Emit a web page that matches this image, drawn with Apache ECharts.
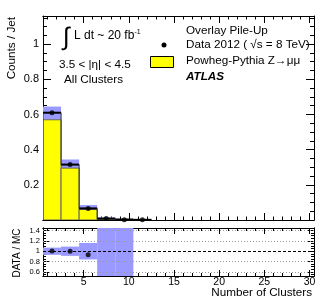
<!DOCTYPE html>
<html><head><meta charset="utf-8">
<script src="https://cdn.jsdelivr.net/npm/echarts@6/dist/echarts.min.js"></script>
<style>html,body{margin:0;padding:0;background:#fff}#c{width:329px;height:305px}</style>
</head><body><div id="c"></div>
<script>
// ---- data ----
const binLow = [0.5, 2.5, 4.5, 6.5, 8.5, 10.5];
const binHigh = [2.5, 4.5, 6.5, 8.5, 10.5, 12.5];
const binCenter = [1.5, 3.5, 5.5, 7.5, 9.5, 11.5];
const powheg = [0.57, 0.295, 0.06, 0.004, 0.001, 0.0005];
const overlay = [0.61, 0.315, 0.066, 0.008, 0.003, 0.001];
const overlayErrLow = [0.57, 0.29, 0.05, 0.002, 0, 0];
const overlayErrHigh = [0.645, 0.344, 0.085, 0.015, 0.006, 0.003];
const data2012 = [0.61, 0.315, 0.066, 0.008, 0.002, 0.001];
const ratio = [1.005, 1.0, 0.93];
const ratioBinLow = [0.5, 2.5, 4.5, 6.5, 8.5];
const ratioBinHigh = [2.5, 4.5, 6.5, 8.5, 10.5];
const ratioErrLow = [0.93, 0.91, 0.84, 0, 0];
const ratioErrHigh = [1.07, 1.09, 1.16, 3, 3];
const xMajorTicks = [5, 10, 15, 20, 25, 30];
const xMinorTicks = [1,2,3,4,6,7,8,9,11,12,13,14,16,17,18,19,21,22,23,24,26,27,28,29];
const ratioMajorTicks = [0.6, 0.8, 1, 1.2, 1.4];
const ratioMinorTicks = [0.55,0.65,0.7,0.75,0.85,0.9,0.95,1.05,1.1,1.15,1.25,1.3,1.35,1.45];
const ratioGridDotted = [0.6, 0.8, 1.2, 1.4];
const ratioGridDashed = [1];

const FONT = 'Liberation Sans';
const BLUE = '#9999ff';
const YELLOW = '#ffff00';

function xAx(grid, pos, ticks, len, labels) {
  return {
    type: 'value', gridIndex: grid, position: pos, min: 0.5, max: 30.5,
    axisLine: { show: true, lineStyle: { color: '#000', width: 1 } },
    axisTick: { show: true, inside: true, length: len, customValues: ticks, lineStyle: { color: '#000' } },
    axisLabel: labels ? { show: true, customValues: ticks, fontFamily: FONT, fontSize: 10.5, color: '#000', margin: 1 } : { show: false },
    splitLine: { show: false }
  };
}
function yRatio(pos, ticks, len, labels) {
  return {
    type: 'value', gridIndex: 1, position: pos, min: 0.52, max: 1.45,
    axisLine: { show: true, lineStyle: { color: '#000', width: 1 } },
    axisTick: { show: true, inside: true, length: len, customValues: ticks, lineStyle: { color: '#000' } },
    axisLabel: labels ? { show: true, customValues: ticks, fontFamily: FONT, fontSize: 7.5, color: '#000', margin: 3 } : { show: false },
    splitLine: { show: false }
  };
}
function yMain(pos, labels) {
  return {
    type: 'value', gridIndex: 0, position: pos, min: 0, max: 1.16, interval: 0.2,
    axisLine: { show: true, lineStyle: { color: '#000', width: 1 } },
    axisTick: { show: true, inside: true, length: 8, lineStyle: { color: '#000' } },
    minorTick: { show: true, splitNumber: 4, length: 4, lineStyle: { color: '#000' } },
    axisLabel: labels ? { show: true, fontFamily: FONT, fontSize: 11, color: '#000', margin: 4, showMinLabel: false, showMaxLabel: false } : { show: false },
    splitLine: { show: false }
  };
}

function rectItem(color, stroke) {
  return function (params, api) {
    const p0 = api.coord([api.value(0), api.value(2)]);
    const p1 = api.coord([api.value(1), api.value(3)]);
    return {
      type: 'rect',
      shape: { x: p0[0], y: p1[1], width: p1[0] - p0[0], height: p0[1] - p1[1] },
      style: { fill: color, stroke: stroke || null, lineWidth: stroke ? 1 : 0 }
    };
  };
}

const mainBand = binLow.map((l, i) => [l, binHigh[i], overlayErrLow[i], overlayErrHigh[i]]);
const mainPowheg = binLow.map((l, i) => [l, binHigh[i], 0, powheg[i]]);
const mainOverlay = binLow.map((l, i) => [l, binHigh[i], overlay[i], i > 0 ? overlay[i - 1] : 0]);
const mainData = binCenter.map((c, i) => [c, data2012[i]]);
const ratBand = ratioBinLow.map((l, i) => [l, ratioBinHigh[i], ratioErrLow[i], ratioErrHigh[i]]);
const ratPts = ratio.map((r, i) => [binCenter[i], r]);

const option = {
  backgroundColor: '#fff',
  animation: false,
  grid: [
    { left: 43, right: 15, top: 16, height: 204 },
    { left: 43, right: 15, top: 228, height: 48 }
  ],
  xAxis: [
    xAx(0, 'bottom', xMinorTicks, 3.5, false),
    xAx(0, 'bottom', xMajorTicks, 7, false),
    xAx(0, 'top', xMinorTicks, 3.5, false),
    xAx(0, 'top', xMajorTicks, 7, false),
    xAx(1, 'bottom', xMinorTicks, 3, false),
    xAx(1, 'bottom', xMajorTicks, 6, true),
    xAx(1, 'top', xMinorTicks, 3, false),
    xAx(1, 'top', xMajorTicks, 6, false)
  ],
  yAxis: [
    yMain('left', true),
    yMain('right', false),
    yRatio('left', ratioMajorTicks, 6, true),
    yRatio('left', ratioMinorTicks, 3, false),
    yRatio('right', ratioMajorTicks, 6, false),
    yRatio('right', ratioMinorTicks, 3, false)
  ],
  series: [
    { type: 'custom', xAxisIndex: 0, yAxisIndex: 0, data: mainBand, renderItem: rectItem(BLUE), clip: true, z: 1 },
    { type: 'custom', xAxisIndex: 0, yAxisIndex: 0, data: mainPowheg, renderItem: rectItem(YELLOW, '#666'), clip: true, z: 2 },
    {
      type: 'custom', xAxisIndex: 0, yAxisIndex: 0, data: mainOverlay, clip: true, z: 3,
      renderItem: function (params, api) {
        const a = api.coord([api.value(0), api.value(2)]);
        const b = api.coord([api.value(1), api.value(2)]);
        const prev = api.coord([api.value(0), api.value(3)]);
        return {
          type: 'group', children: [
            { type: 'line', shape: { x1: a[0], y1: prev[1], x2: a[0], y2: a[1] }, style: { stroke: '#333', lineWidth: 1 } },
            { type: 'line', shape: { x1: a[0], y1: a[1], x2: b[0], y2: b[1] }, style: { stroke: '#000', lineWidth: 2 } }
          ]
        };
      }
    },
    {
      type: 'scatter', xAxisIndex: 0, yAxisIndex: 0, data: mainData, symbol: 'circle', symbolSize: 5,
      itemStyle: { color: '#000' }, z: 4
    },
    { type: 'custom', xAxisIndex: 4, yAxisIndex: 2, data: ratBand, renderItem: rectItem(BLUE), clip: true, z: 1 },
    {
      type: 'scatter', xAxisIndex: 4, yAxisIndex: 2, data: ratPts, symbol: 'circle', symbolSize: 5,
      itemStyle: { color: '#000' }, z: 4,
      markLine: {
        silent: true, symbol: 'none', label: { show: false }, animation: false,
        data: ratioGridDotted.map(v => ({ yAxis: v, lineStyle: { color: '#999', type: [1, 2], width: 1 } }))
          .concat(ratioGridDashed.map(v => ({ yAxis: v, lineStyle: { color: '#000', type: [3, 2], width: 1 } })))
      }
    }
  ],
  graphic: [
    { type: 'text', x: 12, y: 17, rotation: Math.PI / 2, style: { text: 'Counts / Jet', font: '11.7px ' + FONT, fill: '#000', align: 'right', verticalAlign: 'middle' } },
    { type: 'text', x: 17, y: 253, rotation: Math.PI / 2, style: { text: 'DATA / MC', font: '10px ' + FONT, fill: '#000', align: 'center', verticalAlign: 'middle' } },
    { type: 'text', x: 312, y: 293, style: { text: 'Number of Clusters', font: '11.7px ' + FONT, fill: '#000', align: 'right', verticalAlign: 'middle' } },
    { type: 'text', x: 63, y: 38, style: { text: '∫', font: '25px ' + FONT, fill: '#000', align: 'left', verticalAlign: 'middle' } },
    {
      type: 'text', x: 74, y: 36, style: {
        text: '{a|L dt ~ 20 fb}{b|-1}', verticalAlign: 'middle', fill: '#000',
        rich: { a: { font: '12px ' + FONT, fill: '#000' }, b: { font: '7px ' + FONT, fill: '#000', verticalAlign: 'top', padding: [0, 0, 8, 0] } }
      }
    },
    { type: 'text', x: 59, y: 65, style: { text: '3.5 < |η| < 4.5', font: '11.7px ' + FONT, fill: '#000', verticalAlign: 'middle' } },
    { type: 'text', x: 64, y: 80, style: { text: 'All Clusters', font: '11.7px ' + FONT, fill: '#000', verticalAlign: 'middle' } },
    { type: 'text', x: 186, y: 31, style: { text: 'Overlay Pile-Up', font: '11.7px ' + FONT, fill: '#000', verticalAlign: 'middle' } },
    { type: 'circle', shape: { cx: 164, cy: 45, r: 2.5 }, style: { fill: '#000' } },
    { type: 'text', x: 186, y: 45, style: { text: 'Data 2012 ( √s = 8 TeV)', font: '11.7px ' + FONT, fill: '#000', verticalAlign: 'middle' } },
    { type: 'rect', shape: { x: 150.5, y: 56.5, width: 23, height: 11 }, style: { fill: YELLOW, stroke: '#000', lineWidth: 1 } },
    { type: 'text', x: 186, y: 61, style: { text: 'Powheg-Pythia Z→μμ', font: '11.7px ' + FONT, fill: '#000', verticalAlign: 'middle' } },
    { type: 'text', x: 186, y: 77, style: { text: 'ATLAS', font: 'italic bold 11.7px ' + FONT, fill: '#000', verticalAlign: 'middle' } }
  ]
};
const chart = echarts.init(document.getElementById('c'), null, { renderer: 'canvas' });
chart.setOption(option);
</script>
</body></html>
